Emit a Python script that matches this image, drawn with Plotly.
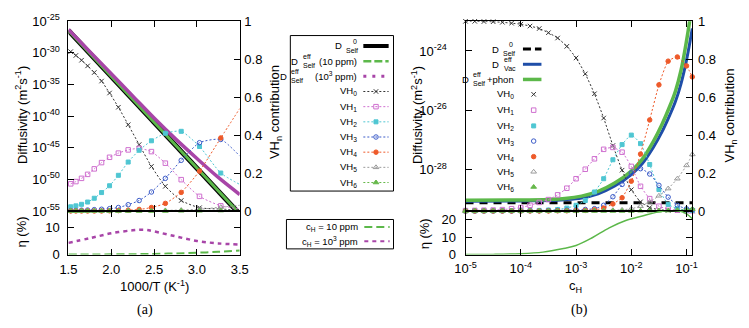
import numpy as np
import plotly.graph_objects as go

W, H = 749, 328
SANS = "Liberation Sans, Arial, Helvetica, sans-serif"
SERIF = "Liberation Serif, Times New Roman, serif"

# ---------------- Panel (a) data ----------------
a_T_K = [655, 630, 605, 580, 555, 530, 505, 480, 455, 430, 405, 380, 355, 330, 305]
a_invT_edge = 3.5   # lines continue to the right edge (last value of each VH list)
a_vh0 = [0.84, 0.82, 0.795, 0.765, 0.73, 0.685, 0.622, 0.547, 0.455, 0.35, 0.235, 0.13, 0.055, 0.017, 0.01, 0.005]
a_vh1 = [0.143, 0.155, 0.172, 0.193, 0.222, 0.255, 0.283, 0.305, 0.322, 0.33, 0.313, 0.252, 0.165, 0.077, 0.027, 0.012]
a_vh2 = [0.022, 0.027, 0.035, 0.047, 0.067, 0.097, 0.133, 0.188, 0.258, 0.32, 0.37, 0.41, 0.42, 0.34, 0.2, 0.14]
a_vh3 = [0.002, 0.003, 0.004, 0.005, 0.007, 0.009, 0.012, 0.018, 0.033, 0.055, 0.1, 0.172, 0.267, 0.36, 0.377, 0.29]
a_vh4 = [0.0, 0.0, 0.0, 0.0, 0.0, 0.0, 0.001, 0.002, 0.004, 0.008, 0.018, 0.04, 0.098, 0.21, 0.385, 0.54]
a_vh5 = [0.0, 0.0, 0.0, 0.0, 0.0, 0.0, 0.0, 0.0, 0.001, 0.001, 0.002, 0.003, 0.005, 0.009, 0.02, 0.03]
a_vh6 = [0.0, 0.0, 0.0, 0.0, 0.0, 0.0, 0.0, 0.0, 0.0, 0.0, 0.0, 0.0, 0.001, 0.001, 0.002, 0.003]

a_D0_x = [1.5, 3.5]
a_D0_log = [-26.45, -55.5]          # D0_Self (log10 m^2/s)
a_D10_log = [-26.45, -55.45]        # D_eff_Self, 10 ppm
a_D1000_x = [1.5, 1.75, 2.0, 2.25, 2.5, 2.75, 3.0, 3.25, 3.5]
a_D1000_log = [-26.3, -29.8, -33.3, -36.8, -40.3, -43.6, -46.7, -49.7, -52.4]

a_eta_x = [1.5, 1.75, 2.0, 2.25, 2.4, 2.5, 2.75, 3.0, 3.25, 3.5]
a_eta_10 = [0.02, 0.04, 0.08, 0.15, 0.2, 0.25, 0.42, 0.68, 1.0, 1.45]
a_eta_1000 = [4.3, 6.0, 7.8, 8.9, 9.1, 8.5, 6.7, 5.0, 4.1, 3.7]

a_yticks = [-55, -50, -45, -40, -35, -30, -25]
a_xticks = [1.5, 2.0, 2.5, 3.0, 3.5]

# ---------------- Panel (b) data ----------------
b_log_cH = [-5.0, -4.833, -4.667, -4.5, -4.333, -4.167, -4.0, -3.833, -3.667, -3.5, -3.333, -3.167, -3.0,
            -2.833, -2.667, -2.5, -2.333, -2.167, -2.0, -1.833, -1.667, -1.5, -1.333, -1.167, -1.0, -0.896]
b_vh0 = [1.0, 1.0, 0.999, 0.998, 0.995, 0.99, 0.985, 0.975, 0.962, 0.94, 0.912, 0.868, 0.807, 0.723, 0.618,
         0.49, 0.345, 0.215, 0.112, 0.048, 0.018, 0.007, 0.003, 0.001, 0.0, 0.0]
b_vh1 = [0.002, 0.003, 0.004, 0.005, 0.007, 0.012, 0.018, 0.03, 0.045, 0.06, 0.085, 0.12, 0.17, 0.22, 0.275,
         0.325, 0.335, 0.31, 0.235, 0.13, 0.065, 0.025, 0.01, 0.004, 0.002, 0.001]
b_vh2 = [0.0, 0.0, 0.0, 0.0, 0.001, 0.001, 0.001, 0.002, 0.003, 0.005, 0.008, 0.015, 0.03, 0.055, 0.1,
         0.17, 0.27, 0.35, 0.4, 0.355, 0.245, 0.113, 0.035, 0.012, 0.005, 0.003]
b_vh3 = [0.0, 0.0, 0.0, 0.0, 0.0, 0.0, 0.001, 0.001, 0.001, 0.002, 0.003, 0.004, 0.006, 0.008, 0.012,
         0.03, 0.075, 0.14, 0.2, 0.223, 0.195, 0.135, 0.073, 0.03, 0.011, 0.006]
b_vh4 = [0.0, 0.0, 0.0, 0.0, 0.0, 0.0, 0.0, 0.0, 0.0, 0.0, 0.001, 0.001, 0.002, 0.003, 0.006,
         0.015, 0.037, 0.07, 0.157, 0.3, 0.48, 0.665, 0.79, 0.812, 0.765, 0.707]
b_vh5 = [0.0, 0.0, 0.0, 0.0, 0.0, 0.0, 0.0, 0.0, 0.0, 0.0, 0.0, 0.0, 0.0, 0.001, 0.002,
         0.003, 0.004, 0.006, 0.012, 0.025, 0.048, 0.08, 0.118, 0.17, 0.24, 0.298]
b_vh6 = [0.0, 0.0, 0.0, 0.0, 0.0, 0.0, 0.0, 0.0, 0.0, 0.0, 0.0, 0.0, 0.0, 0.0, 0.0,
         0.0, 0.0, 0.0, 0.0, 0.001, 0.001, 0.002, 0.002, 0.004, 0.007, 0.01]

b_D0_logc = [-5.0, -0.896]
b_D0_log = [-29.12, -29.12]
b_curve_logc = [-5.0, -4.0, -3.5, -3.2, -2.9, -2.6, -2.3, -2.0, -1.8, -1.6, -1.45, -1.3, -1.2, -1.1, -1.0, -0.896]
b_Dphon_log = [-29.04, -29.03, -29.01, -28.98, -28.9, -28.74, -28.46, -28.05, -27.65, -27.05, -26.5, -25.85,
               -25.35, -24.65, -23.65, -22.4]
b_Dvac_log = [-29.07, -29.06, -29.05, -29.02, -28.96, -28.82, -28.56, -28.17, -27.8, -27.25, -26.75, -26.15,
              -25.7, -25.1, -24.3, -23.24]

b_eta_logc = [-5.0, -4.5, -4.0, -3.6, -3.25, -3.0, -2.7, -2.4, -2.1, -1.8, -1.55, -1.3, -1.13, -1.0, -0.896]
b_eta = [0.0, 0.1, 0.5, 1.4, 3.3, 5.2, 9.8, 15.3, 19.5, 22.1, 24.2, 25.3, 25.0, 23.3, 20.5]

b_yticks = [-28, -26, -24]
b_xticks = [-5, -4, -3, -2, -1]

VH_names = ['VH<sub>0</sub>', 'VH<sub>1</sub>', 'VH<sub>2</sub>', 'VH<sub>3</sub>',
            'VH<sub>4</sub>', 'VH<sub>5</sub>', 'VH<sub>6</sub>']
VH_col = ['#333333', '#cf6fcf', '#4fc6d2', '#3b5bc8', '#ee5a2a', '#9a9a9a', '#66b84a']
VH_sym = ['x-thin', 'square-open', 'square', 'circle-open', 'circle', 'triangle-up-open', 'triangle-up']
VH_size = [4.5, 4.5, 4, 4.5, 4.5, 5, 5]

C_GREEN = '#5cb84a'
C_PURPLE = '#a845a8'
C_BLUE = '#1f4ea8'
DOT = '2px,2px'

def mk(i):
    return dict(symbol=VH_sym[i], size=VH_size[i], color=VH_col[i],
                line=dict(color=VH_col[i], width=1))

fig = go.Figure()

# ---------- (a) diffusivity lines ----------
fig.add_trace(go.Scatter(x=a_D0_x, y=[10 ** v for v in a_D0_log], mode='lines',
                         line=dict(color='black', width=5), xaxis='x', yaxis='y'))
fig.add_trace(go.Scatter(x=a_D0_x, y=[10 ** v for v in a_D10_log], mode='lines',
                         line=dict(color=C_GREEN, width=3), xaxis='x', yaxis='y'))
fig.add_trace(go.Scatter(x=a_D1000_x, y=[10 ** v for v in a_D1000_log], mode='lines',
                         line=dict(color=C_PURPLE, width=3.5, shape='spline'), xaxis='x', yaxis='y'))

# ---------- (a) VH contributions ----------
a_x = [1000.0 / t for t in a_T_K] + [a_invT_edge]
for i, vals in enumerate([a_vh0, a_vh1, a_vh2, a_vh3, a_vh4, a_vh5, a_vh6]):
    fig.add_trace(go.Scatter(x=a_x, y=vals, mode='lines',
                             line=dict(color=VH_col[i], width=1, dash=DOT, shape='spline', smoothing=0.6),
                             xaxis='x', yaxis='y2'))
    fig.add_trace(go.Scatter(x=a_x[:-1], y=vals[:-1], mode='markers', marker=mk(i), cliponaxis=False,
                             xaxis='x', yaxis='y2'))

# ---------- (a) eta ----------
fig.add_trace(go.Scatter(x=a_eta_x, y=a_eta_10, mode='lines',
                         line=dict(color=C_GREEN, width=2, dash='8px,4px', shape='spline'),
                         xaxis='x2', yaxis='y3'))
fig.add_trace(go.Scatter(x=a_eta_x, y=a_eta_1000, mode='lines',
                         line=dict(color=C_PURPLE, width=2.5, dash='4px,4px', shape='spline'),
                         xaxis='x2', yaxis='y3'))

# ---------- (b) diffusivity ----------
fig.add_trace(go.Scatter(x=[10 ** v for v in b_D0_logc], y=[10 ** v for v in b_D0_log], mode='lines',
                         line=dict(color='black', width=3, dash='8px,6px'), xaxis='x3', yaxis='y4'))
fig.add_trace(go.Scatter(x=[10 ** v for v in b_curve_logc], y=[10 ** v for v in b_Dvac_log], mode='lines',
                         line=dict(color=C_BLUE, width=3, shape='spline'), xaxis='x3', yaxis='y4'))
fig.add_trace(go.Scatter(x=[10 ** v for v in b_curve_logc], y=[10 ** v for v in b_Dphon_log], mode='lines',
                         line=dict(color=C_GREEN, width=3.5, shape='spline'), xaxis='x3', yaxis='y4'))

b_x = [10 ** v for v in b_log_cH]
for i, vals in enumerate([b_vh0, b_vh1, b_vh2, b_vh3, b_vh4, b_vh5, b_vh6]):
    fig.add_trace(go.Scatter(x=b_x, y=vals, mode='lines',
                             line=dict(color=VH_col[i], width=1, dash=DOT, shape='spline', smoothing=0.5),
                             xaxis='x3', yaxis='y5'))
    fig.add_trace(go.Scatter(x=b_x, y=vals, mode='markers', marker=mk(i), cliponaxis=False,
                             xaxis='x3', yaxis='y5'))

fig.add_trace(go.Scatter(x=[10 ** v for v in b_eta_logc], y=b_eta, mode='lines',
                         line=dict(color=C_GREEN, width=1.5, shape='spline'), xaxis='x4', yaxis='y6'))

# ---------- legends (drawn on a pixel overlay) ----------
ann = []

def txt(x, y, s, size=9.5, anchor='right', family=SANS, angle=0):
    ann.append(dict(x=x / W, y=1 - y / H, xref='paper', yref='paper', text=s, showarrow=False,
                    xanchor=anchor, yanchor='middle', textangle=angle, borderpad=0,
                    font=dict(size=size, family=family, color='black')))

def leg_line(x0, x1, y, color, width, dash='solid'):
    fig.add_trace(go.Scatter(x=[x0, x1], y=[y, y], mode='lines', xaxis='x5', yaxis='y7',
                             line=dict(color=color, width=width, dash=dash)))

def leg_mark(x, y, i):
    fig.add_trace(go.Scatter(x=[x], y=[y], mode='markers', marker=mk(i), xaxis='x5', yaxis='y7'))

def stacked(d_right, blk_left, y, sup, sub, sup_dx=0):
    txt(d_right, y, 'D', anchor='right')
    txt(blk_left + sup_dx, y - 5, sup, size=7, anchor='left')
    txt(blk_left, y + 4.3, sub, size=7, anchor='left')

# (a) legend box
rows_a = [39, 55, 71, 87, 103, 119, 135, 151, 167, 183]
TR = 357
S0, S1, SM = 362, 388, 375
stacked(341, 343, rows_a[0], '0', 'Self', sup_dx=7)
leg_line(S0, S1, rows_a[0], 'black', 4)
stacked(296, 299, rows_a[1], 'eff', 'Self')
txt(TR, rows_a[1], '(10 ppm)')
leg_line(S0, S1, rows_a[1], C_GREEN, 2.5, '8px,3px')
stacked(285, 287, rows_a[2], 'eff', 'Self')
txt(TR, rows_a[2], '(10<sup>3</sup> ppm)')
leg_line(S0, S1, rows_a[2], C_PURPLE, 3, '3px,6px')
for i in range(7):
    y = rows_a[3 + i]
    txt(TR, y, VH_names[i])
    leg_line(S0, S1, y, VH_col[i], 1, DOT)
    leg_mark(SM, y, i)

# (a) second legend box
txt(358, 230, 'c<sub>H</sub> = 10 ppm')
txt(358, 245, 'c<sub>H</sub> = 10<sup>3</sup> ppm')
leg_line(363, 389, 230, C_GREEN, 2, '8px,4px')
leg_line(363, 389, 245, C_PURPLE, 2, '4px,4px')

# (b) legend
rows_b = [42.3, 58.3, 74.3, 90, 106.7, 123.3, 139.3, 155.7, 171.7, 187.7]
TRB = 518
stacked(502, 504, rows_b[0], '0', 'Self', sup_dx=7)
leg_line(526, 545, rows_b[0], 'black', 3, '8px,4px')
stacked(502, 505, rows_b[1], 'eff', 'Vac')
leg_line(526, 545, rows_b[1], C_BLUE, 3)
stacked(472, 474, rows_b[2], 'eff', 'Self')
txt(TRB, rows_b[2], '+phon')
leg_line(526, 545, rows_b[2], C_GREEN, 3.5)
for i in range(7):
    y = rows_b[3 + i]
    txt(TRB, y, VH_names[i])
    leg_mark(537, y, i)

# axis titles / captions
txt(11, 112, 'Diffusivity (m<sup>2</sup>s<sup>-1</sup>)', size=13, anchor='center', angle=-90)
txt(272, 109, 'VH<sub>n</sub> contribution', size=13, anchor='center', angle=-90)
txt(11, 235, 'η (%)', size=13, anchor='center', angle=-90)
txt(147, 292, '1000/T (K<sup>-1</sup>)', size=13, anchor='center')
txt(138, 317, '(a)', size=14, anchor='center', family=SERIF)
txt(417, 112, 'Diffusivity (m<sup>2</sup>s<sup>-1</sup>)', size=13, anchor='center', angle=-90)
txt(739, 112, 'VH<sub>n</sub> contribution', size=13, anchor='center', angle=-90)
txt(425, 237, 'η (%)', size=13, anchor='center', angle=-90)
txt(580, 293, 'c<sub>H</sub>', size=13, anchor='center')
txt(584, 317, '(b)', size=14, anchor='center', family=SERIF)

shapes = [
    dict(type='rect', xref='paper', yref='paper', x0=287 / W, x1=393 / W, y0=1 - 192 / H, y1=1 - 28 / H,
         line=dict(color='black', width=1)),
    dict(type='rect', xref='paper', yref='paper', x0=283 / W, x1=393 / W, y0=1 - 253 / H, y1=1 - 222 / H,
         line=dict(color='black', width=1)),
]

# ---------- axes ----------
def dom_x(a, b):
    return [a / W, b / W]

def dom_y(top, bottom):
    return [1 - bottom / H, 1 - top / H]

TF = dict(family=SANS, size=13, color='black')
base = dict(showgrid=False, zeroline=False, showline=True, linecolor='black', linewidth=1,
            ticks='inside', ticklen=6, tickcolor='black', tickwidth=1, tickfont=TF, fixedrange=True)

def sup10(e):
    return '10<sup>%d</sup>' % e

layout = dict(
    width=W, height=H, margin=dict(l=0, r=0, t=0, b=0),
    paper_bgcolor='white', plot_bgcolor='rgba(0,0,0,0)', showlegend=False,
    font=dict(family=SANS, color='black'),
    xaxis=dict(base, domain=dom_x(59, 235), range=[1.5, 3.5], anchor='y', tickvals=a_xticks,
               showticklabels=False, mirror='ticks'),
    yaxis=dict(base, domain=dom_y(13, 213), type='log', range=[-55, -25], anchor='x',
               tickvals=[10.0 ** e for e in a_yticks], ticktext=[sup10(e) for e in a_yticks],
               ticklabelstandoff=5),
    yaxis2=dict(base, overlaying='y', side='right', anchor='x', range=[0, 1], dtick=0.2,
                ticklabelstandoff=1),
    xaxis2=dict(base, domain=dom_x(59, 235), range=[1.5, 3.5], anchor='y3', tickvals=a_xticks,
                ticktext=['%.1f' % v for v in a_xticks], mirror='ticks', ticklabelstandoff=3),
    yaxis3=dict(base, domain=dom_y(213, 259), range=[0, 16], anchor='x2', tickvals=[0, 10],
                mirror='ticks', ticklabelstandoff=5),
    xaxis3=dict(base, domain=dom_x(467, 700), type='log', range=[-5, -0.896], anchor='y4',
                tickvals=[10.0 ** e for e in b_xticks], showticklabels=False, mirror='ticks'),
    yaxis4=dict(base, domain=dom_y(13, 213), type='log', range=[-29.4, -23.0], anchor='x3',
                tickvals=[10.0 ** e for e in b_yticks], ticktext=[sup10(e) for e in b_yticks],
                ticklabelstandoff=15),
    yaxis5=dict(base, overlaying='y4', side='right', anchor='x3', range=[0, 1], dtick=0.2,
                ticklabelstandoff=2),
    xaxis4=dict(base, domain=dom_x(467, 700), type='log', range=[-5, -0.896], anchor='y6',
                tickvals=[10.0 ** e for e in b_xticks], ticktext=[sup10(e) for e in b_xticks],
                mirror='ticks', ticklabelstandoff=2),
    yaxis6=dict(base, domain=dom_y(213, 259), range=[0, 25], anchor='x4', tickvals=[0, 10, 20],
                mirror='ticks', ticklabelstandoff=6),
    xaxis5=dict(domain=[0, 1], range=[0, W], anchor='y7', visible=False, fixedrange=True),
    yaxis7=dict(domain=[0, 1], range=[H, 0], anchor='x5', visible=False, fixedrange=True),
    annotations=ann, shapes=shapes,
)
fig.update_layout(**layout)
fig.update_traces(hoverinfo='skip')
fig.write_html("out.html")
